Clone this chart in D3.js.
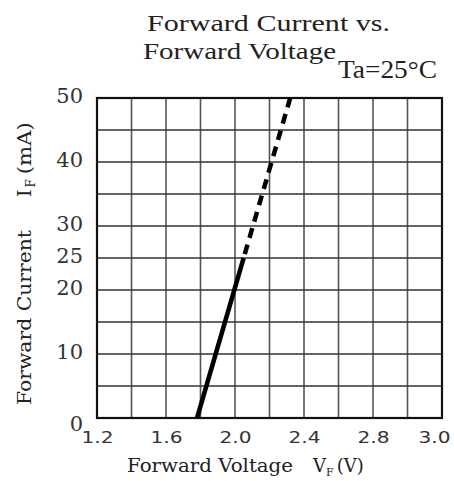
<!DOCTYPE html>
<html><head><meta charset="utf-8">
<script src="https://cdn.jsdelivr.net/npm/d3@7"></script>
<style>body{margin:0;background:#fff}svg{display:block}</style>
</head><body>
<svg id="c" width="454" height="481"></svg>
<script>
// ---- data ----
const xGridValues = [1.2,1.4,1.6,1.8,2.0,2.2,2.4,2.6,2.8,3.0,3.2];
const xTickValues = [1.2,1.6,2.0,2.4,2.8,3.2];
const xTickLabels = ["1.2","1.6","2.0","2.4","2.8","3.0"];
const yGridValues = [0,5,10,15,20,25,30,35,40,45,50];
const yTickValues = [0,10,20,25,30,40,50];
const yTickLabels = ["0","10","20","25","30","40","50"];
const solidVoltage = [1.78, 2.05];
const solidCurrent = [0, 25];
const dashedVoltage = [2.05, 2.32];
const dashedCurrent = [25, 50];

const svg = d3.select("#c");
const m = {left:97, right:442, top:98, bottom:418};
const x = d3.scaleLinear().domain([1.2,3.2]).range([m.left,m.right]);
const y = d3.scaleLinear().domain([0,50]).range([m.bottom,m.top]);

// grid
svg.append("g").selectAll("line").data(xGridValues).join("line")
  .attr("x1",d=>x(d)).attr("x2",d=>x(d)).attr("y1",m.top).attr("y2",m.bottom)
  .attr("stroke","#555").attr("stroke-width",1.6);
svg.append("g").selectAll("line").data(yGridValues).join("line")
  .attr("y1",d=>y(d)).attr("y2",d=>y(d)).attr("x1",m.left).attr("x2",m.right)
  .attr("stroke","#333").attr("stroke-width",1.6);
svg.append("rect").attr("x",m.left).attr("y",m.top)
  .attr("width",m.right-m.left).attr("height",m.bottom-m.top)
  .attr("fill","none").attr("stroke","#111").attr("stroke-width",2.2);

// axes (labels only)
const xAxis = d3.axisBottom(x).tickValues(xTickValues)
  .tickFormat((d,i)=>xTickLabels[i]).tickSize(0).tickPadding(14);
const gx = svg.append("g").attr("transform",`translate(0,${m.bottom})`).call(xAxis);
gx.select(".domain").remove();
gx.selectAll("text").attr("font-family","DejaVu Sans").attr("font-size",16)
  .attr("fill","#333").attr("textLength",32).attr("lengthAdjust","spacingAndGlyphs");
gx.selectAll(".tick").filter((d,i)=>i===xTickValues.length-1).select("text")
  .attr("text-anchor","end").attr("dx",8);

const yAxis = d3.axisLeft(y).tickValues(yTickValues)
  .tickFormat((d,i)=>yTickLabels[i]).tickSize(0).tickPadding(14);
const gy = svg.append("g").attr("transform",`translate(${m.left},0)`).call(yAxis);
gy.select(".domain").remove();
gy.selectAll("text").attr("font-family","DejaVu Serif").attr("font-size",21)
  .attr("fill","#333").attr("dy","0.2em");
gy.selectAll(".tick").filter(d=>d===0).select("text").attr("dy","0.6em");

// curve
const line = d3.line().x(d=>x(d[0])).y(d=>y(d[1]));
svg.append("path").datum(solidVoltage.map((v,i)=>[v,solidCurrent[i]]))
  .attr("d",line).attr("fill","none").attr("stroke","#000").attr("stroke-width",4.5);
svg.append("path").datum(dashedVoltage.map((v,i)=>[v,dashedCurrent[i]]))
  .attr("d",line).attr("fill","none").attr("stroke","#000").attr("stroke-width",4.5)
  .attr("stroke-dasharray","10,7").attr("stroke-dashoffset",-4);

// titles
svg.append("text").attr("x",147).attr("y",31).attr("font-family","Liberation Serif")
  .attr("font-size",24).attr("fill","#222").attr("textLength",243)
  .attr("lengthAdjust","spacingAndGlyphs").text("Forward Current vs.");
svg.append("text").attr("x",143).attr("y",59).attr("font-family","Liberation Serif")
  .attr("font-size",24).attr("fill","#222").attr("textLength",193)
  .attr("lengthAdjust","spacingAndGlyphs").text("Forward Voltage");
svg.append("text").attr("x",338).attr("y",78).attr("font-family","Liberation Serif")
  .attr("font-size",25).attr("fill","#222").attr("textLength",99)
  .attr("lengthAdjust","spacingAndGlyphs").text("Ta=25°C");

// x label
svg.append("text").attr("x",127).attr("y",472).attr("font-family","DejaVu Serif")
  .attr("font-size",18).attr("fill","#222").attr("textLength",166)
  .attr("lengthAdjust","spacingAndGlyphs").text("Forward Voltage");
const xl2 = svg.append("text").attr("x",313).attr("y",472).attr("font-family","DejaVu Serif")
  .attr("font-size",18).attr("fill","#222");
xl2.append("tspan").text("V");
xl2.append("tspan").attr("font-size",11).attr("dy",4).text("F");
xl2.append("tspan").attr("dy",-4).attr("dx",3).text("(V)");

// y label
svg.append("text").attr("transform","translate(31,405) rotate(-90)")
  .attr("font-family","DejaVu Serif").attr("font-size",18).attr("fill","#222")
  .attr("textLength",175).attr("lengthAdjust","spacingAndGlyphs").text("Forward Current");
const yl2 = svg.append("text").attr("transform","translate(31,197) rotate(-90)")
  .attr("font-family","DejaVu Serif").attr("font-size",19).attr("fill","#222");
yl2.append("tspan").text("I");
yl2.append("tspan").attr("font-size",12).attr("dy",4).attr("dx",2).text("F");
yl2.append("tspan").attr("dy",-4).attr("dx",5)
  .attr("textLength",52).attr("lengthAdjust","spacingAndGlyphs").text("(mA)");
</script>
</body></html>
